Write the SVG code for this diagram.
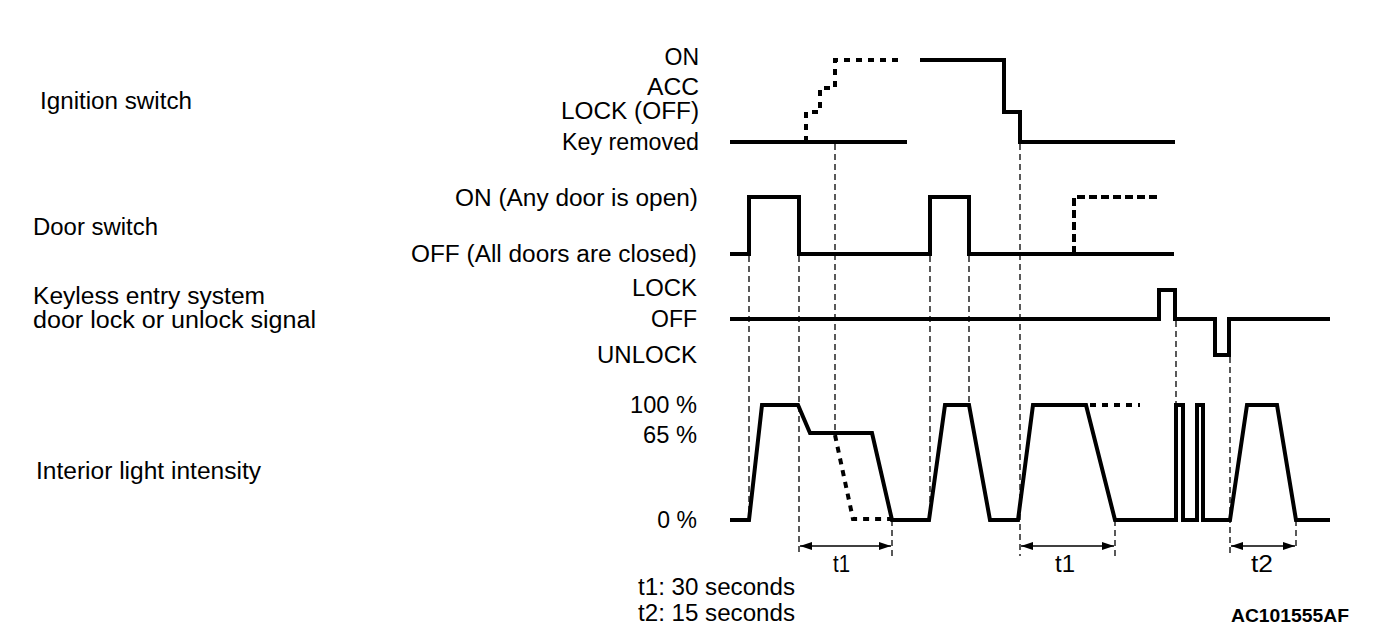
<svg xmlns="http://www.w3.org/2000/svg" width="1392" height="636" viewBox="0 0 1392 636">
<style>
text{font-family:"Liberation Sans",Arial,sans-serif;font-size:23px;fill:#000}
.r{text-anchor:end}
.sig{fill:none;stroke:#000;stroke-width:4;stroke-linejoin:miter}
.dsig{fill:none;stroke:#000;stroke-width:4;stroke-dasharray:6 6}
.guide{fill:none;stroke:#000;stroke-width:1.3;stroke-dasharray:6 4}
.dim{fill:none;stroke:#000;stroke-width:1.5}
</style>
<defs>
<marker id="ah" viewBox="0 0 12 8" refX="12" refY="4" markerWidth="12" markerHeight="8" markerUnits="userSpaceOnUse" orient="auto-start-reverse">
<path d="M0,0 L12,4 L0,8 Z" fill="#000"/>
</marker>
</defs>
<rect width="1392" height="636" fill="#fff"/>

<g id="labels-left">
<text x="40" y="109" textLength="152" lengthAdjust="spacingAndGlyphs">Ignition switch</text>
<text x="33" y="235" textLength="125" lengthAdjust="spacingAndGlyphs">Door switch</text>
<text x="33" y="304" textLength="232" lengthAdjust="spacingAndGlyphs">Keyless entry system</text>
<text x="33" y="328" textLength="283" lengthAdjust="spacingAndGlyphs">door lock or unlock signal</text>
</g>

<g id="ignition-levels">
<text class="r" x="699" y="65">ON</text>
<text class="r" x="699" y="95" textLength="52" lengthAdjust="spacingAndGlyphs">ACC</text>
<text class="r" x="699" y="119" textLength="138" lengthAdjust="spacingAndGlyphs">LOCK (OFF)</text>
<text class="r" x="699" y="150" textLength="137" lengthAdjust="spacingAndGlyphs">Key removed</text>
</g>
<g id="door-levels">
<text class="r" x="698" y="206" textLength="243" lengthAdjust="spacingAndGlyphs">ON (Any door is open)</text>
<text class="r" x="697" y="262" textLength="286" lengthAdjust="spacingAndGlyphs">OFF (All doors are closed)</text>
</g>
<g id="keyless-levels">
<text class="r" x="697" y="296" textLength="65" lengthAdjust="spacingAndGlyphs">LOCK</text>
<text class="r" x="697" y="327">OFF</text>
<text class="r" x="697" y="363" textLength="100" lengthAdjust="spacingAndGlyphs">UNLOCK</text>
</g>
<g id="light-levels">
<text class="r" x="697" y="413" textLength="67" lengthAdjust="spacingAndGlyphs">100 %</text>
<text class="r" x="697" y="443" textLength="54" lengthAdjust="spacingAndGlyphs">65 %</text>
<text class="r" x="697" y="528">0 %</text>
<text x="36" y="479" textLength="225" lengthAdjust="spacingAndGlyphs">Interior light intensity</text>
</g>

<g id="connectors">
<g id="guides">
<path class="guide" d="M749,256 V518"/>
<path class="guide" d="M799,256 V556"/>
<path class="guide" d="M835,144 V433"/>
<path class="guide" d="M892,520 V556"/>
<path class="guide" d="M930,256 V518"/>
<path class="guide" d="M969,256 V405"/>
<path class="guide" d="M1020,144 V556"/>
<path class="guide" d="M1115,520 V556"/>
<path class="guide" d="M1176,321 V405"/>
<path class="guide" d="M1230,357 V556"/>
<path class="guide" d="M1296,520 V550"/>
</g>
<g id="dimensions">
<line class="dim" x1="800" y1="546" x2="891" y2="546" marker-start="url(#ah)" marker-end="url(#ah)"/>
<line class="dim" x1="1021" y1="546" x2="1114" y2="546" marker-start="url(#ah)" marker-end="url(#ah)"/>
<line class="dim" x1="1231" y1="546" x2="1295" y2="546" marker-start="url(#ah)" marker-end="url(#ah)"/>
<text x="833" y="572" textLength="17" lengthAdjust="spacingAndGlyphs">t1</text>
<text x="1055" y="572" textLength="20" lengthAdjust="spacingAndGlyphs">t1</text>
<text x="1251" y="572" textLength="22" lengthAdjust="spacingAndGlyphs">t2</text>
</g>
</g>

<g id="ignition-signal">
<path class="sig" d="M730,142 H907"/>
<path class="sig" d="M920,60 H1004 V112 H1020 V142 H1175"/>
<path class="dsig" d="M806,142 V112 H820 V88 H835 V60 H900"/>
</g>
<g id="door-signal">
<path class="sig" d="M730,254 H749 V197 H799 V254 H930 V197 H969 V254 H1174"/>
<path class="dsig" style="stroke-dasharray:8 4" d="M1074,254 V197 H1157"/>
</g>
<g id="keyless-signal">
<path class="sig" d="M730,319 H1159 V290 H1175 V319 H1215 V355 H1229 V319 H1330"/>
</g>
<g id="light-signal">
<path class="sig" d="M730,520 H749 L762,405 H798 L810,433 H872 L892,520 H929 L945,405 H969 L990,520 H1018 L1033,405 H1086 L1115,520 H1176 V405 H1183 V520 H1197 V405 H1203 V520 H1230 L1247,405 H1277 L1296,520 H1330"/>
<path class="dsig" d="M835,435 L853,519 H891"/>
<path class="dsig" d="M1090,405 H1140"/>
</g>

<g id="notes">
<text x="638" y="595" textLength="157" lengthAdjust="spacingAndGlyphs">t1: 30 seconds</text>
<text x="638" y="621" textLength="157" lengthAdjust="spacingAndGlyphs">t2: 15 seconds</text>
<text x="1231" y="622" style="font-weight:bold;font-size:19px" textLength="118" lengthAdjust="spacingAndGlyphs">AC101555AF</text>
</g>
</svg>
